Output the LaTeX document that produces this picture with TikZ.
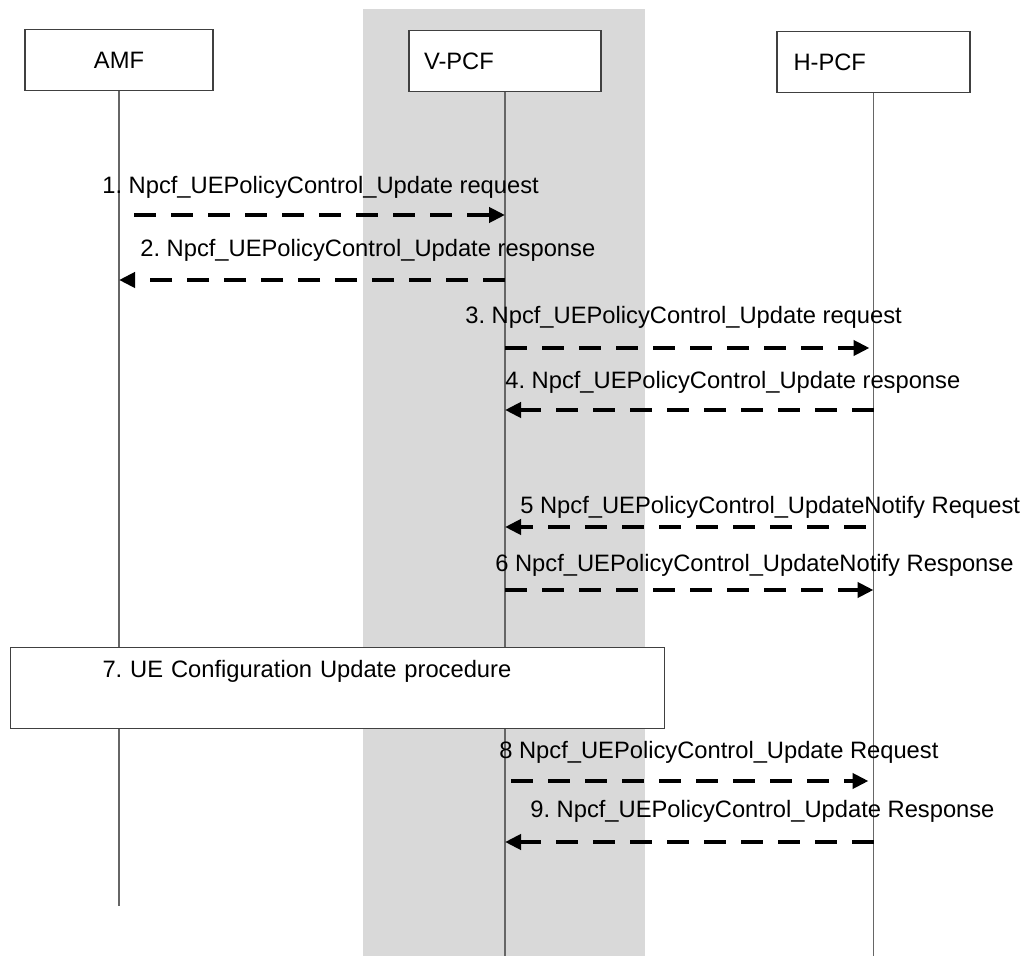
\documentclass[tikz,border=0pt]{standalone}
\usepackage{fontspec}
\setmainfont{Liberation Sans}
\usepackage{xcolor}
\usepackage{tikz}
\usetikzlibrary{positioning,arrows.meta}
\definecolor{bandgray}{RGB}{217,217,217}
\frenchspacing

\begin{document}
\begin{tikzpicture}[
    node font=\fontsize{13.5}{16}\selectfont,
    life/.style={draw=black!60, line width=0.6pt},
    msg/.style={draw, -{Triangle[length=0.32cm, width=0.3cm]}, line width=2.7pt, dash pattern=on 0.44cm off 0.3cm},
    box/.style={draw=black!75, line width=0.6pt, rectangle, fill=white, minimum height=1.22cm},
    leftbox/.style={box, inner xsep=0.3cm, align=left},
    lbl/.style={anchor=west, inner sep=0pt}
]
\useasboundingbox (0,0) rectangle (20.52,-19.12);

\fill[bandgray] (7.26,-0.18) rectangle (12.9,-19.12);

\node[box, minimum width=3.76cm] (amf) at (2.38,-1.2) {AMF};
\node[leftbox, text width=3.24cm] (vpcf) at (10.1,-1.22) {V-PCF};
\node[leftbox, inner xsep=0.33cm, text width=3.2cm] (hpcf) at (17.47,-1.24) {H-PCF};

\draw[life] (amf.south) -- (amf.south |- 0,-18.12);
\draw[life] (vpcf.south) -- (vpcf.south |- 0,-19.12);
\draw[life] (hpcf.south) -- (hpcf.south |- 0,-19.12);

\coordinate (m1) at (0,-4.3);
\coordinate (m2) at (0,-5.6);
\coordinate (m3) at (0,-6.96);
\coordinate (m4) at (0,-8.2);
\coordinate (m5) at (0,-10.54);
\coordinate (m6) at (0,-11.8);
\coordinate (m8) at (0,-15.62);
\coordinate (m9) at (0,-16.84);

\node[lbl] (l1) at (2.04,-3.74) {1. Npcf\_UEPolicyControl\_Update request};
\draw[msg, shorten <=0.3cm] (amf |- m1) -- (vpcf |- m1);

\node[lbl] (l2) at (2.8,-5.0) {2. Npcf\_UEPolicyControl\_Update response};
\draw[msg] (vpcf |- m2) -- (amf |- m2);

\node[lbl] (l3) at (9.3,-6.34) {3. Npcf\_UEPolicyControl\_Update request};
\draw[msg, shorten >=0.08cm] (vpcf |- m3) -- (hpcf |- m3);

\node[lbl] (l4) at (10.1,-7.64) {4. Npcf\_UEPolicyControl\_Update response};
\draw[msg] (hpcf |- m4) -- (vpcf |- m4);

\node[lbl] (l5) at (10.4,-10.14) {5 Npcf\_UEPolicyControl\_UpdateNotify Request};
\draw[msg, shorten <=0.16cm] (hpcf |- m5) -- (vpcf |- m5);

\node[lbl] (l6) at (9.9,-11.3) {6 Npcf\_UEPolicyControl\_UpdateNotify Response};
\draw[msg] (vpcf |- m6) -- (hpcf |- m6);

\node[box, anchor=north west, inner xsep=1.84cm, inner ysep=0pt, text width=9.4cm, align=left,
      text height=0.59cm, text depth=1.03cm] (ucu) at (0.2,-12.94) {7. UE Configuration Update procedure};

\node[lbl] (l8) at (9.98,-15.04) {8 Npcf\_UEPolicyControl\_Update Request};
\draw[msg, shorten <=0.12cm, shorten >=0.1cm] (vpcf |- m8) -- (hpcf |- m8);

\node[lbl] (l9) at (10.6,-16.22) {9. Npcf\_UEPolicyControl\_Update Response};
\draw[msg] (hpcf |- m9) -- (vpcf |- m9);

\end{tikzpicture}
\end{document}
